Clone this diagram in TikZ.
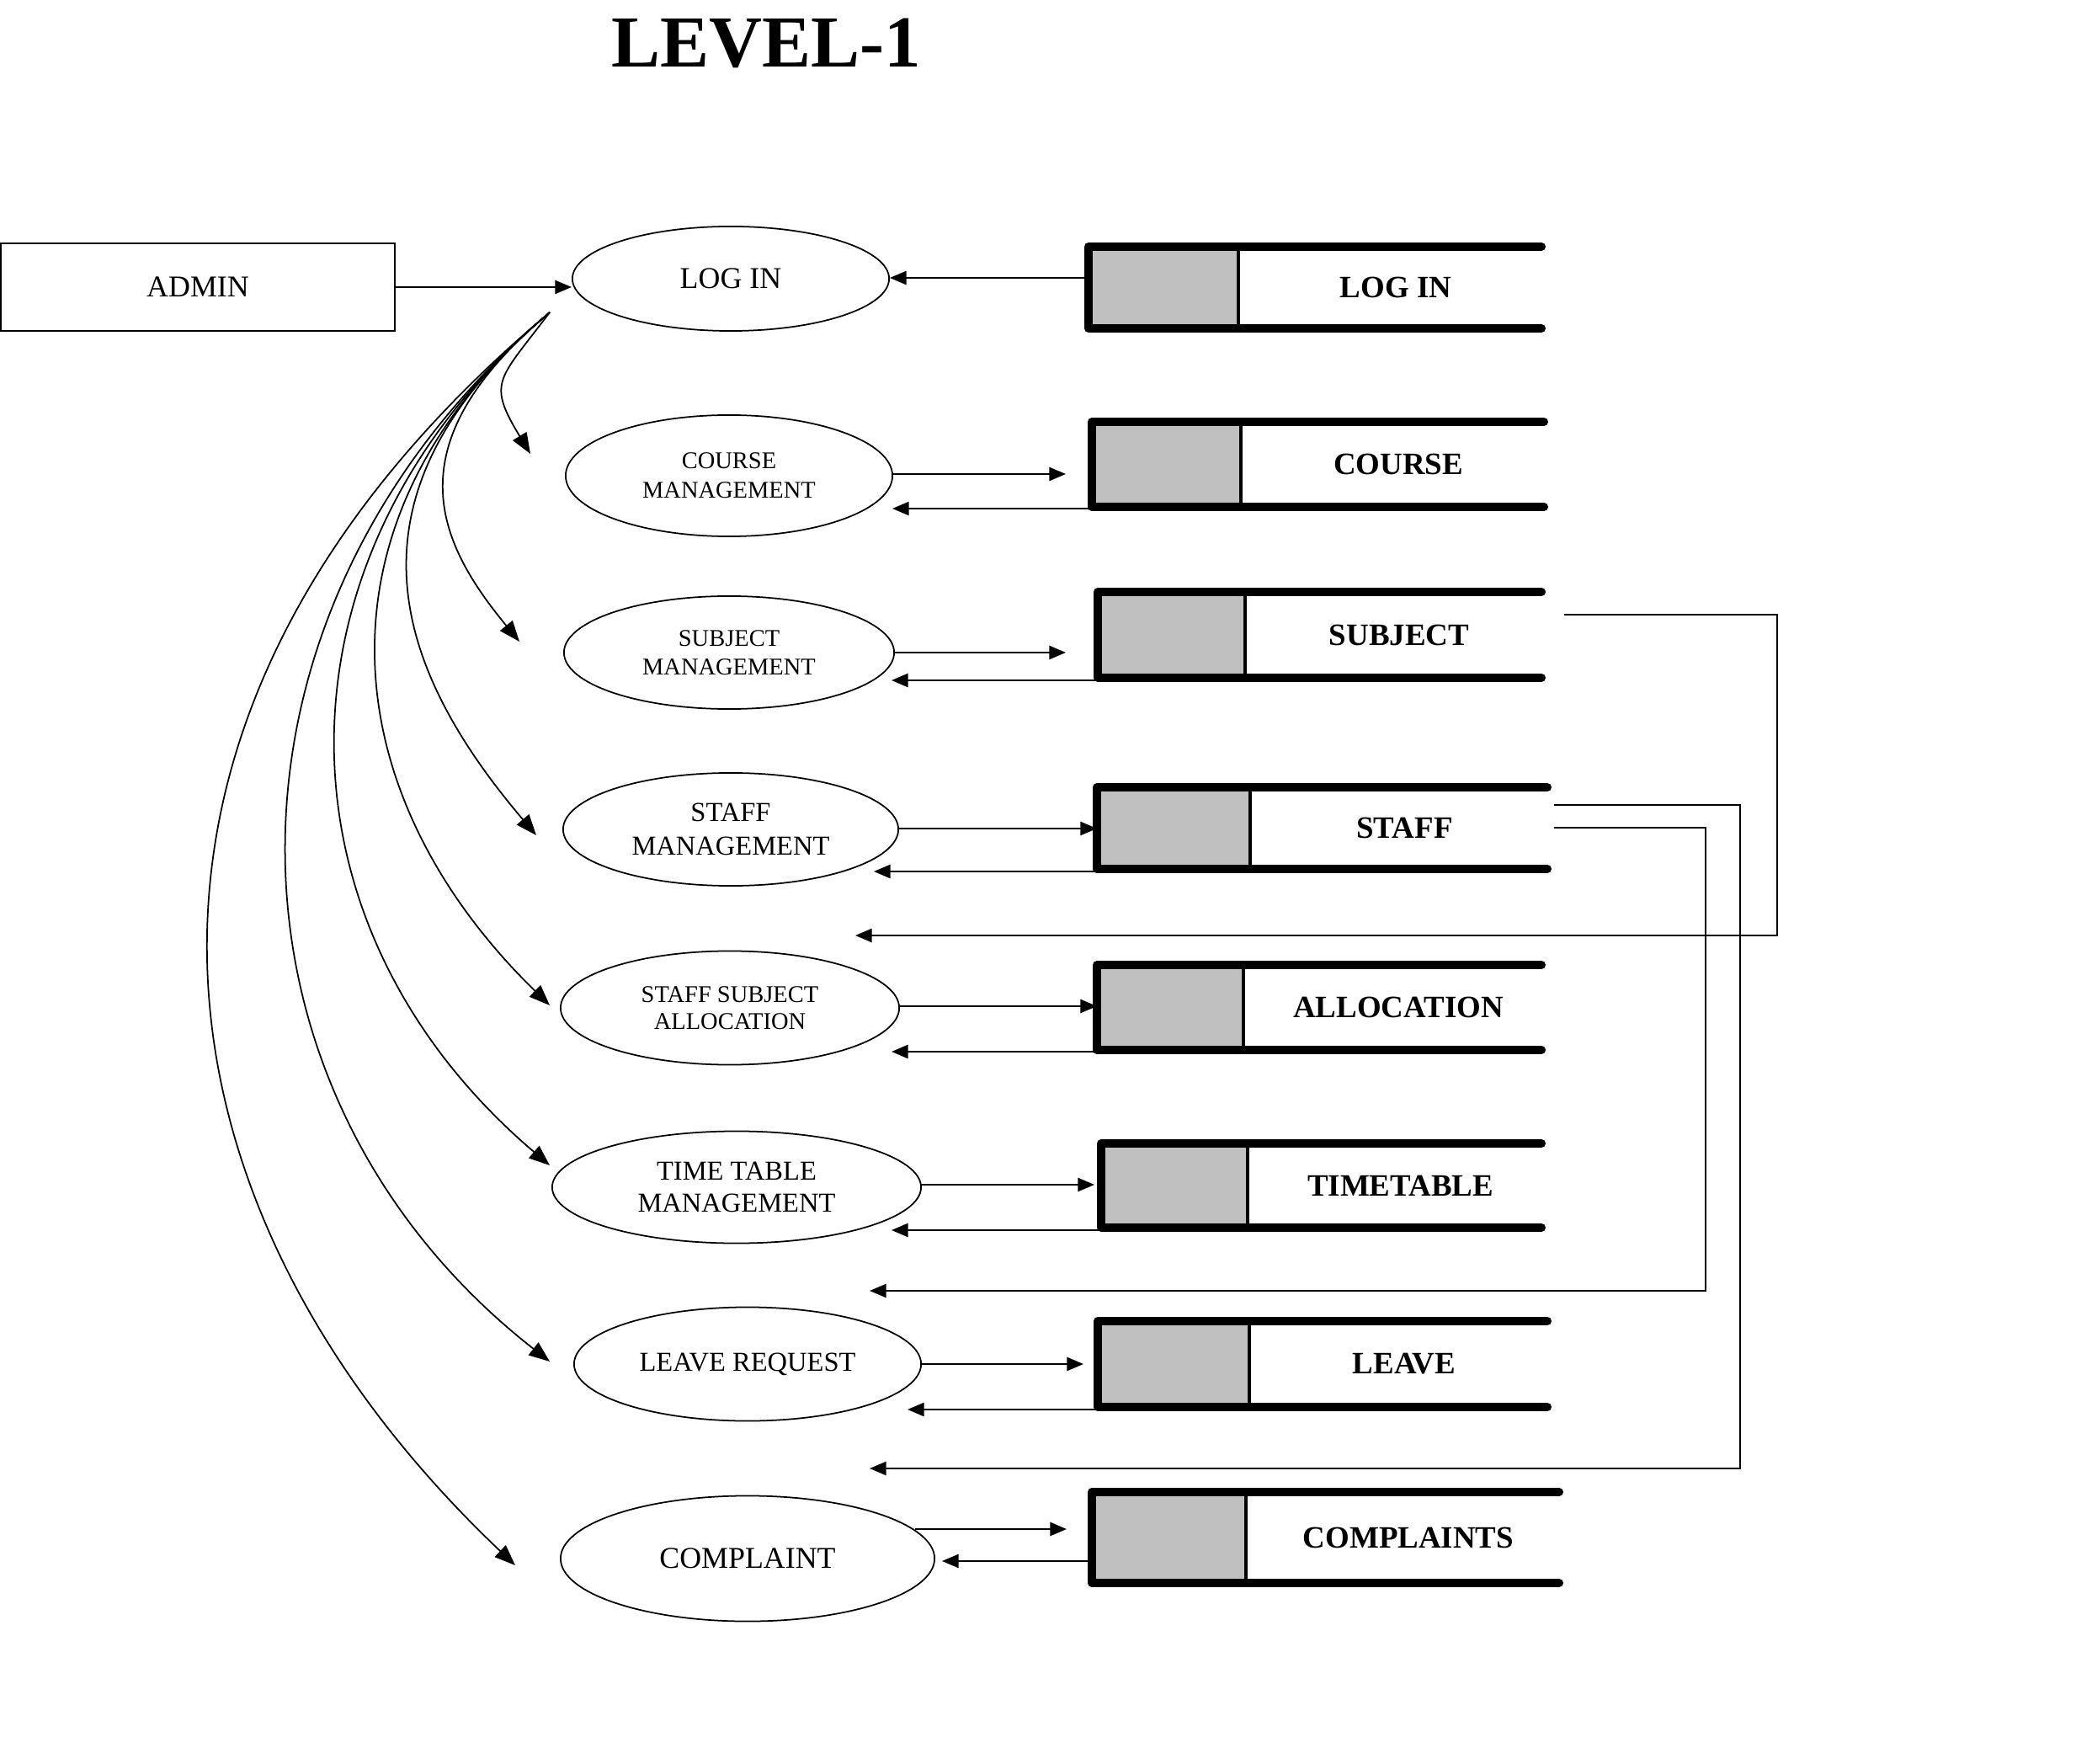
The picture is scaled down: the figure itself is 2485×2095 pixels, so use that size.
\documentclass[tikz,border=0pt]{standalone}
\usepackage{fontspec}
\setmainfont{Liberation Serif}
\usetikzlibrary{arrows.meta,shapes.geometric}
\definecolor{storegray}{HTML}{C0C0C0}
\newcommand{\dstore}[7]{%
  \fill[storegray] (#2,#3) rectangle (#5,#4);
  \draw[line width=1.4pt] (#5,#3) -- (#5,#4);
  \draw[storeline] (#6,#3) -- (#2,#3) -- (#2,#4) -- (#6,#4);
  \node[storelabel] (#1) at ({(#5+#6)/2+7},{(#3+#4)/2}) {#7};
  \coordinate (#1-w) at (#2,{(#3+#4)/2});
}
\tikzset{
  title/.style={font=\fontsize{24.75}{28}\selectfont\bfseries, inner sep=0pt},
  storeline/.style={line width=2.85pt, line cap=round, line join=round},
  storelabel/.style={font=\fontsize{10.5}{12}\selectfont\bfseries, inner sep=0pt},
  proc/.style={ellipse, draw, line width=0.5pt, inner sep=0pt, align=center},
  fbig/.style={font=\fontsize{10.2}{12}\selectfont},
  fmid/.style={font=\fontsize{9.25}{11.2}\selectfont},
  fsmall/.style={font=\fontsize{8.1}{9.8}\selectfont},
  arr/.style={line width=0.6pt, -{Triangle[length=5.6pt,width=4.6pt]}},
  carr/.style={line width=0.5pt, -{Triangle[length=7pt,width=5.4pt]}},
}
\begin{document}
\begin{tikzpicture}[x=0.01cm, y=-0.01cm]
\useasboundingbox (0,0) rectangle (2485,2095);

% title
\node[title] (ttl) at (910,51) {LEVEL-1};

% external entity
\node[draw, line width=0.6pt, minimum width=4.68cm, minimum height=1.04cm, inner sep=0pt, fbig] (admin) at (235,341) {ADMIN};

% processes
\node[proc, fbig, minimum width=3.76cm, minimum height=1.24cm] (login) at (868,331) {LOG IN};
\node[proc, font=\fontsize{8.1}{10}\selectfont, minimum width=3.88cm, minimum height=1.44cm] (course) at (866,565) {COURSE\\MANAGEMENT};
\node[proc, fsmall, minimum width=3.92cm, minimum height=1.34cm] (subject) at (866,775) {SUBJECT\\MANAGEMENT};
\node[proc, font=\fontsize{9.25}{11.4}\selectfont, minimum width=3.98cm, minimum height=1.34cm] (staff) at (868,985) {STAFF\\MANAGEMENT};
\node[proc, font=\fontsize{8.1}{9.1}\selectfont, minimum width=4.02cm, minimum height=1.35cm] (alloc) at (867,1197) {STAFF SUBJECT\\ALLOCATION};
\node[proc, font=\fontsize{9.25}{10.8}\selectfont, minimum width=4.38cm, minimum height=1.33cm] (time) at (875,1410) {TIME TABLE\\MANAGEMENT};
\node[proc, fmid, minimum width=4.12cm, minimum height=1.35cm] (leave) at (888,1620) {LEAVE REQUEST};
\node[proc, fbig, minimum width=4.44cm, minimum height=1.49cm] (complaint) at (888,1851) {COMPLAINT};

% data stores
\dstore{dLogin}{1293}{293}{390}{1471}{1831}{LOG IN}
\dstore{dCourse}{1297}{501}{602}{1474}{1834}{COURSE}
\dstore{dSubject}{1304}{703}{805}{1479}{1831}{SUBJECT}
\dstore{dStaff}{1303}{935}{1032}{1485}{1838}{STAFF}
\dstore{dAlloc}{1303}{1146}{1247}{1477}{1831}{ALLOCATION}
\dstore{dTime}{1308}{1358}{1458}{1482}{1831}{TIMETABLE}
\dstore{dLeave}{1304}{1569}{1671}{1484}{1838}{LEAVE}
\dstore{dCompl}{1297}{1772}{1880}{1480}{1852}{COMPLAINTS}

% admin -> login
\draw[arr] (admin.east |- 0,341) -- (login.west |- 0,341);
% store login -> login
\draw[arr] (dLogin-w |- 0,330) -- (login.east |- 0,330);

% process <-> store
\draw[arr] (1060,563) -- (1266,563);
\draw[arr] (dCourse-w |- 0,604) -- (1060,604);
\draw[arr] (1062,775) -- (1266,775);
\draw[arr] (dSubject-w |- 0,808) -- (1059,808);
\draw[arr] (1067,984) -- (dStaff-w |- 0,984);
\draw[arr] (dStaff-w |- 0,1035) -- (1038,1035);
\draw[arr] (1068,1195) -- (dAlloc-w |- 0,1195);
\draw[arr] (dAlloc-w |- 0,1249) -- (1059,1249);
\draw[arr] (1094,1407) -- (1300,1407);
\draw[arr] (dTime-w |- 0,1461) -- (1059,1461);
\draw[arr] (1094,1620) -- (1287,1620);
\draw[arr] (dLeave-w |- 0,1674) -- (1078,1674);
\draw[arr] (1087,1816) -- (1267,1816);
\draw[arr] (dCompl-w |- 0,1854) -- (1119,1854);

% feedback loops
\coordinate (subOut) at (1858,730);
\coordinate (staffOutA) at (1846,956);
\coordinate (staffOutB) at (1846,983);
\draw[arr] (subOut) -- (2111,730) -- (2111,1111) -- (1016,1111);
\draw[arr] (staffOutA) -- (2067,956) -- (2067,1744) -- (1033,1744);
\draw[arr] (staffOutB) -- (2026,983) -- (2026,1533) -- (1033,1533);

% fan of curves from login
\coordinate (o) at (653,371);
\coordinate (tCourse) at (630,539);
\coordinate (tSubject) at (617,762);
\coordinate (tStaff) at (637,992);
\coordinate (tAlloc) at (653,1194);
\coordinate (tTime) at (653,1384);
\coordinate (tLeave) at (653,1617);
\coordinate (tCompl) at (612,1859);
\draw[carr] (o) .. controls (592,452) and (578,453) .. (tCourse);
\draw[carr] (o) .. controls (465,528) and (519,643) .. (tSubject);
\draw[carr] (o) .. controls (395,588) and (468,793) .. (tStaff);
\draw[carr] (o) .. controls (366,612) and (391,938) .. (tAlloc);
\draw[carr] (o) .. controls (318,652) and (311,1093) .. (tTime);
\draw[carr] (o) .. controls (234,723) and (240,1294) .. (tLeave);
\draw[carr] (o) .. controls (76,855) and (164,1434) .. (tCompl);
\end{tikzpicture}
\end{document}
